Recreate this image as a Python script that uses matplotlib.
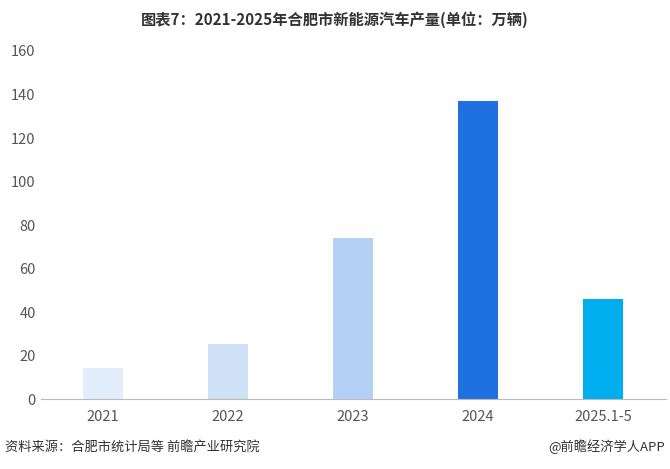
import matplotlib.pyplot as plt

plt.rcParams['font.family'] = ['Noto Sans CJK SC', 'DejaVu Sans']

years = ['2021', '2022', '2023', '2024', '2025.1-5']
output = [14.3, 25.5, 74.2, 136.8, 46.0]
colors = ['#e3eefc', '#d0e2f8', '#b3d0f5', '#1f70e0', '#00aeef']

fig = plt.figure(figsize=(6.7, 4.69), dpi=100)
ax = fig.add_axes([40.5 / 670, 70 / 469, 625 / 670, 348 / 469])

x = range(len(years))
ax.bar(x, output, width=0.32, color=colors)
ax.set_xlim(-0.5, 4.5)
ax.set_ylim(0, 160)
ax.set_yticks(range(0, 161, 20))
ax.set_xticks(list(x))
ax.set_xticklabels(years)
ax.tick_params(axis='both', length=0, labelsize=10.5, labelcolor='#555555')
ax.tick_params(axis='x', pad=8)
for s in ['top', 'right', 'left']:
    ax.spines[s].set_visible(False)
ax.spines['bottom'].set_color('#bbbbbb')

fig.text(0.5, 1 - 20 / 469, '图表7：2021-2025年合肥市新能源汽车产量(单位：万辆)',
         ha='center', va='center', fontsize=11, fontweight='bold', color='#333333')
fig.text(5 / 670, 1 - 447 / 469, '资料来源：合肥市统计局等 前瞻产业研究院',
         ha='left', va='center', fontsize=9.5, color='#333333')
fig.text(665 / 670, 1 - 447 / 469, '@前瞻经济学人APP',
         ha='right', va='center', fontsize=9.5, color='#333333')

fig.savefig('out.png', dpi=100)
